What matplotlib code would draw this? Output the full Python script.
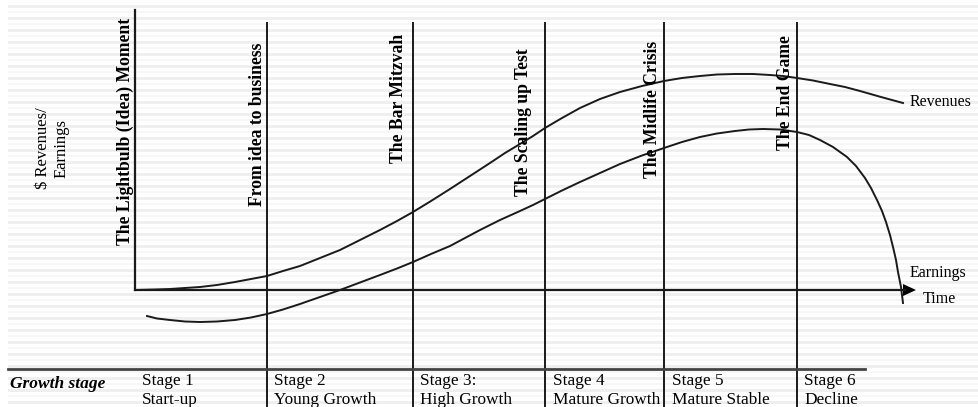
import numpy as np
import matplotlib
matplotlib.use("Agg")
import matplotlib.pyplot as plt

# curve points (x = time, y = $), origin at axis corner
rev_x = [0, 20, 35, 50, 65, 82, 100, 116, 132, 148, 165, 185, 205, 225, 245, 262, 278,
         296, 315, 335, 355, 370, 385, 398, 410, 427, 445, 465, 485, 507, 529, 547,
         565, 582, 600, 618, 635, 648, 662, 678, 695, 710, 725, 746, 768]
rev_y = [0, 0.5, 1, 2, 3, 5, 8, 11, 14, 19, 24, 32, 40, 50, 60, 69, 78,
         89, 101, 114, 127, 137, 146, 154, 162, 172, 182, 191, 198, 204, 209, 212,
         214, 215.5, 216, 216, 215, 214, 212, 209.5, 206, 203, 199, 193, 187]

earn_x = [12, 22, 35, 50, 65, 82, 100, 116, 132, 148, 165, 185, 205, 225, 245, 262, 278,
          296, 315, 330, 345, 365, 385, 398, 410, 427, 445, 465, 485, 507, 529, 547,
          565, 582, 600, 614, 628, 645, 662, 674, 685, 698, 712, 721, 730, 736, 742,
          747, 751, 755, 758, 761, 763, 766, 768]
earn_y = [-26, -28.5, -30, -31.5, -32, -31.5, -30, -27.5, -24, -19.5, -14, -7, 0, 7.5, 15,
          21.5, 28, 36, 44, 52, 60, 70, 79, 85, 91, 99.5, 108, 117, 126, 134.5, 142, 148,
          153, 156.5, 159, 160.5, 161, 160.5, 158, 155, 150, 143, 133, 124, 112, 102, 90,
          79, 68, 55, 43, 30, 18, 3, -13]

# milestone lines (time) and their labels
events_x = [132, 278, 410, 529, 662]
events = ["From idea to business", "The Bar Mitzvah", "The Scaling up Test",
          "The Midlife Crisis", "The End Game"]
event_lab_x = [122, 264, 389, 518, 651]
event_lab_y = [84, 127, 94, 112, 140]

stages = ["Stage 1\nStart-up", "Stage 2\nYoung Growth", "Stage 3:\nHigh Growth",
          "Stage 4\nMature Growth", "Stage 5\nMature Stable", "Stage 6\nDecline"]
stage_x = [7, 139, 285, 418, 537, 669]

serif = "Liberation Serif"

fig = plt.figure(figsize=(9.79, 4.07), dpi=100)
ax = fig.add_axes([0, 0, 1, 1])
# 1 data unit = 1 pixel, origin at the axis corner
ax.set_xlim(-135, 979 - 135)
ax.set_ylim(290 - 407, 290)
ax.axis("off")

# faint ruled background
for yy in np.arange(5, 407, 12):
    ax.axhspan(290 - yy - 3, 290 - yy, xmin=8 / 979, xmax=1, color="#efefef", lw=0, zorder=0)
for yy in np.arange(11, 407, 12):
    ax.axhspan(290 - yy - 2, 290 - yy, xmin=8 / 979, xmax=1, color="#f7f7f7", lw=0, zorder=0)

lc = "#1a1a1a"
# axes
ax.plot([0, 0], [0, 280], color=lc, lw=1.6)
ax.plot([0, 770], [0, 0], color=lc, lw=1.6)
ax.fill([768, 768, 781], [6, -6, 0], color="black", lw=0)

# stage separator lines
for ex in events_x:
    ax.plot([ex, ex], [267, 290 - 407], color=lc, lw=1.4)

# table rule
ax.plot([-127, 730], [290 - 369, 290 - 369], color="#444444", lw=2)

# curves
ax.plot(rev_x, rev_y, color=lc, lw=1.4)
ax.plot(earn_x, earn_y, color=lc, lw=1.4)

# event labels
ax.text(-10, 45, "The Lightbulb (Idea) Moment", rotation=90, ha="center", va="bottom",
        family=serif, weight="bold", fontsize=12.7)
for lx, ly, lab in zip(event_lab_x, event_lab_y, events):
    ax.text(lx, ly, lab, rotation=90, ha="center", va="bottom",
            family=serif, weight="bold", fontsize=12.7)

ax.text(-83, 142, "$ Revenues/\nEarnings", rotation=90, ha="center", va="center",
        family=serif, fontsize=12, linespacing=1.25)

ax.text(775, 188, "Revenues", ha="left", va="center", family=serif, fontsize=11.5)
ax.text(775, 17, "Earnings", ha="left", va="center", family=serif, fontsize=11.5)
ax.text(788, -9, "Time", ha="left", va="center", family=serif, fontsize=11.5)

ax.text(-125, 290 - 384, "Growth stage", ha="left", va="center", family=serif,
        weight="bold", style="italic", fontsize=12.5)
for sx, lab in zip(stage_x, stages):
    ax.text(sx, 290 - 373, lab, ha="left", va="top", family=serif, fontsize=12.4,
            linespacing=1.25)

fig.savefig("out.png", dpi=100)
